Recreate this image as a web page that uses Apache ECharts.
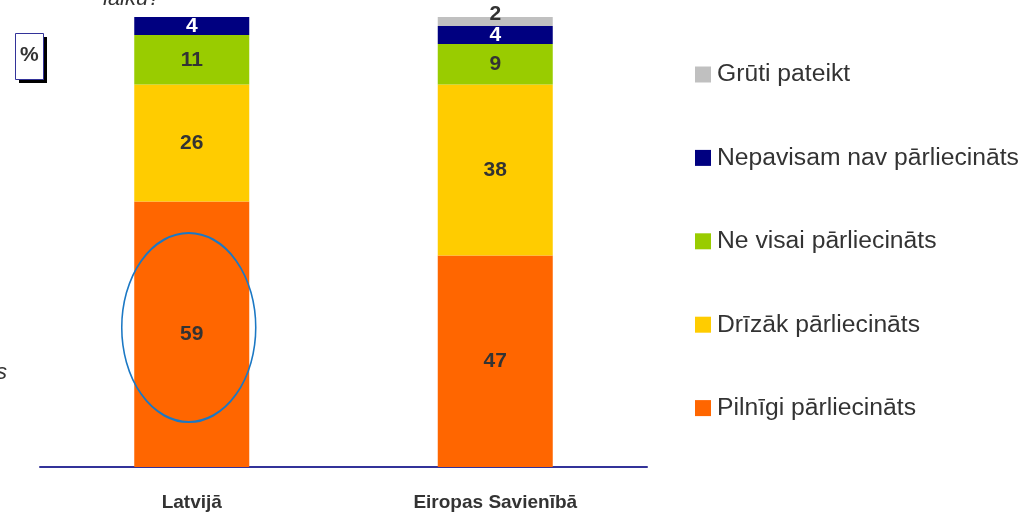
<!DOCTYPE html>
<html>
<head>
<meta charset="utf-8">
<script src="https://cdn.jsdelivr.net/npm/echarts@6/dist/echarts.min.js"></script>
<style>
  html, body { margin: 0; padding: 0; background: #fff; }
  #chart { width: 1030px; height: 515px; }
</style>
</head>
<body>
<div id="chart"></div>
<script>
// kategorijas
var categories = ['Latvijā', 'Eiropas Savienībā'];
// sērijas (no apakšas uz augšu)
var seriesNames = ['Pilnīgi pārliecināts', 'Drīzāk pārliecināts', 'Ne visai pārliecināts', 'Nepavisam nav pārliecināts', 'Grūti pateikt'];
var pilnigi = [59, 47];
var drizak = [26, 38];
var nevisai = [11, 9];
var nepavisam = [4, 4];
var gruti = [null, 2];
var colors = ['#FF6600', '#FFCC00', '#99CC00', '#000080', '#C0C0C0'];

var font = '"Liberation Sans", Arial, sans-serif';
var values = [pilnigi, drizak, nevisai, nepavisam, gruti];

var series = seriesNames.map(function (name, i) {
  var lbl = {
    show: true,
    position: 'inside',
    fontFamily: font,
    fontSize: 21,
    fontWeight: 'bold',
    color: i === 3 ? '#fff' : '#333'
  };
  if (i === 4) lbl.offset = [0, -7];
  return {
    name: name,
    type: 'bar',
    stack: 'total',
    barWidth: 115,
    itemStyle: { color: colors[i] },
    label: lbl,
    data: values[i]
  };
});

var chart = echarts.init(document.getElementById('chart'));
chart.setOption({
  animation: false,
  color: colors,
  grid: { left: 40, right: 383, top: 17, bottom: 48, containLabel: false },
  legend: {
    orient: 'vertical',
    left: 690,
    top: 57,
    itemWidth: 16,
    itemHeight: 16,
    itemGap: 58.4,
    icon: 'rect',
    data: seriesNames.slice().reverse(),
    textStyle: { fontFamily: font, fontSize: 24.7, color: '#333', padding: [0, 0, 0, 1] }
  },
  xAxis: {
    type: 'category',
    data: categories,
    axisLine: { show: true, lineStyle: { color: '#333399', width: 2 } },
    axisTick: { show: false },
    axisLabel: { fontFamily: font, fontSize: 19, fontWeight: 'bold', color: '#333', margin: 26 }
  },
  yAxis: {
    type: 'value',
    min: 0,
    max: 100,
    show: false,
    splitLine: { show: false }
  },
  series: series
});

// anotācijas: elipse ap 59, "%" rāmis, nogrieztie teksti
var ellC = chart.convertToPixel({ gridIndex: 0 }, [categories[0], 31]);
var ellTop = chart.convertToPixel({ gridIndex: 0 }, [categories[0], 52]);
var ellBot = chart.convertToPixel({ gridIndex: 0 }, [categories[0], 10]);
var ellRy = (ellBot[1] - ellTop[1]) / 2;
chart.setOption({
  graphic: [
    {
      type: 'circle',
      x: ellC[0] - 3,
      y: ellC[1],
      scaleX: 67 / ellRy,
      shape: { cx: 0, cy: 0, r: ellRy },
      style: { fill: 'none', stroke: '#1B78C4', lineWidth: 2.2, strokeNoScale: true },
      z: 100
    },
    { type: 'rect', shape: { x: 19, y: 37, width: 28, height: 46 }, style: { fill: '#000' } },
    { type: 'rect', shape: { x: 15.5, y: 33.5, width: 28, height: 46 }, style: { fill: '#fff', stroke: '#333399', lineWidth: 1 } },
    { type: 'text', x: 20, y: 45, style: { text: '%', font: 'bold 21px ' + font, fill: '#333' } },
    { type: 'text', x: 103, y: 10, style: { text: 'laiku?', font: 'italic 22px ' + font, fill: '#333', verticalAlign: 'bottom' } },
    { type: 'text', x: -4, y: 362, style: { text: 's', font: 'italic 22px ' + font, fill: '#333' } }
  ]
});
</script>
</body>
</html>
